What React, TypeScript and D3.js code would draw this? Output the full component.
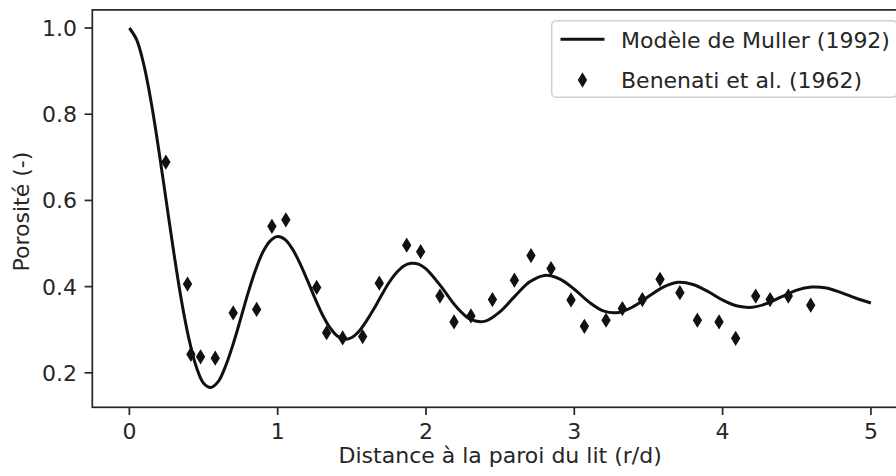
import React from "react";
import * as d3 from "d3";

// Model curve (Muller 1992)
const modelX = [
  0, 0.05, 0.1, 0.15, 0.2, 0.25, 0.3, 0.35, 0.4, 0.45, 0.5, 0.55, 0.6, 0.65, 0.7, 0.75, 0.8, 0.85, 0.9, 0.95,
  1.0, 1.05, 1.1, 1.15, 1.2, 1.25, 1.3, 1.35, 1.4, 1.45, 1.5, 1.55, 1.6, 1.65, 1.7, 1.75, 1.8, 1.85, 1.9, 1.95,
  2.0, 2.1, 2.2, 2.3, 2.4, 2.5, 2.6, 2.7, 2.8, 2.9, 3.0, 3.1, 3.2, 3.3, 3.4, 3.5, 3.6, 3.7, 3.8, 3.9,
  4.0, 4.1, 4.2, 4.3, 4.4, 4.5, 4.6, 4.7, 4.8, 4.9, 5.0,
];
const modelY = [
  1.0, 0.972, 0.911, 0.822, 0.713, 0.595, 0.478, 0.37, 0.281, 0.215, 0.176, 0.166, 0.18, 0.217, 0.267, 0.325, 0.385, 0.438, 0.48, 0.506,
  0.516, 0.509, 0.487, 0.454, 0.415, 0.374, 0.336, 0.306, 0.286, 0.278, 0.282, 0.297, 0.321, 0.349, 0.38, 0.409, 0.432, 0.448, 0.454, 0.452,
  0.441, 0.401, 0.355, 0.324, 0.32, 0.342, 0.378, 0.411, 0.426, 0.418, 0.394, 0.364, 0.343, 0.34, 0.354, 0.377, 0.399, 0.41, 0.405, 0.389,
  0.369, 0.355, 0.352, 0.361, 0.377, 0.392, 0.399, 0.397, 0.386, 0.373, 0.362,
];

// Benenati et al. (1962) measurements
const benX = [
  0.246, 0.392, 0.415, 0.48, 0.579, 0.7, 0.858, 0.961, 1.055, 1.263, 1.33, 1.438, 1.573, 1.685, 1.87, 1.964,
  2.094, 2.189, 2.303, 2.448, 2.596, 2.708, 2.843, 2.978, 3.068, 3.214, 3.324, 3.459, 3.578, 3.712, 3.83,
  3.976, 4.088, 4.223, 4.32, 4.443, 4.594,
];
const benY = [
  0.689, 0.406, 0.243, 0.237, 0.234, 0.339, 0.347, 0.54, 0.555, 0.398, 0.293, 0.281, 0.284, 0.408, 0.496, 0.481,
  0.378, 0.318, 0.332, 0.37, 0.415, 0.472, 0.442, 0.369, 0.308, 0.322, 0.349, 0.37, 0.417, 0.386, 0.322,
  0.318, 0.28, 0.378, 0.37, 0.378, 0.357,
];

const xTicks = [0, 1, 2, 3, 4, 5];
const yTicks = [0.2, 0.4, 0.6, 0.8, 1.0];
const legendLabels = ["Modèle de Muller (1992)", "Benenati et al. (1962)"];
const xLabel = "Distance à la paroi du lit (r/d)";
const yLabel = "Porosité (-)";

const W = 896;
const H = 476;
const FONT = "'DejaVu Sans', sans-serif";
const FS = 22;
const AX = "#262626";

const diamond = (cx: number, cy: number) =>
  `M${cx},${cy - 6.2}L${cx + 3.8},${cy}L${cx},${cy + 6.2}L${cx - 3.8},${cy}Z`;

export default function App() {
  const x = d3.scaleLinear().domain([-0.25, 5.25]).range([92.3, 908]);
  const y = d3.scaleLinear().domain([0.12, 1.042]).range([407.3, 9.9]);
  const [x0, x1] = x.range();
  const [y0, y1] = y.range();

  const pts = modelX.map((v, i) => [v, modelY[i]] as [number, number]);
  const line = d3
    .line<[number, number]>()
    .x((d) => x(d[0]))
    .y((d) => y(d[1]))
    .curve(d3.curveCatmullRom.alpha(0.5));

  const tickLen = 7.7;
  const pad = 7.7;

  return (
    <svg
      width={W}
      height={H}
      style={{ position: "absolute", left: 0, top: 0, background: "#fff" }}
      fontFamily={FONT}
    >
      <rect x={0} y={0} width={W} height={H} fill="#fff" />
      {/* model curve */}
      <path d={line(pts) || ""} fill="none" stroke="#111" strokeWidth={3} strokeLinejoin="round" />
      {/* data points */}
      {benX.map((v, i) => (
        <path key={i} d={diamond(x(v), y(benY[i]))} fill="#111" stroke="#111" strokeWidth={1.5} strokeLinejoin="miter" />
      ))}
      {/* spines */}
      <rect x={x0} y={y1} width={x1 - x0} height={y0 - y1} fill="none" stroke={AX} strokeWidth={1.7} />
      {/* x ticks */}
      {xTicks.map((t) => (
        <g key={"x" + t}>
          <line x1={x(t)} x2={x(t)} y1={y0} y2={y0 + tickLen} stroke={AX} strokeWidth={1.7} />
          <text x={x(t)} y={439} textAnchor="middle" fontSize={FS} fill={AX}>
            {t}
          </text>
        </g>
      ))}
      {/* y ticks */}
      {yTicks.map((t) => (
        <g key={"y" + t}>
          <line x1={x0 - tickLen} x2={x0} y1={y(t)} y2={y(t)} stroke={AX} strokeWidth={1.7} />
          <text x={x0 - tickLen - pad} y={y(t) + 8} textAnchor="end" fontSize={FS} fill={AX}>
            {t.toFixed(1)}
          </text>
        </g>
      ))}
      {/* axis labels */}
      <text x={(x0 + x1) / 2} y={463} textAnchor="middle" fontSize={FS} fill={AX}>
        {xLabel}
      </text>
      <text
        transform={`translate(29,${(y0 + y1) / 2 + 3}) rotate(-90)`}
        textAnchor="middle"
        fontSize={FS}
        fill={AX}
      >
        {yLabel}
      </text>
      {/* legend */}
      <rect x={551.7} y={20.7} width={345.3} height={76.6} rx={4.4} fill="#fff" fillOpacity={0.8} stroke="#d0d0d0" strokeWidth={1.5} />
      <line x1={560.5} x2={604.5} y1={39.3} y2={39.3} stroke="#111" strokeWidth={3} />
      <path d={diamond(582.5, 80)} fill="#111" stroke="#111" strokeWidth={1.5} />
      <text x={621} y={47.5} fontSize={FS} fill={AX}>
        {legendLabels[0]}
      </text>
      <text x={621} y={87.5} fontSize={FS} fill={AX}>
        {legendLabels[1]}
      </text>
    </svg>
  );
}
